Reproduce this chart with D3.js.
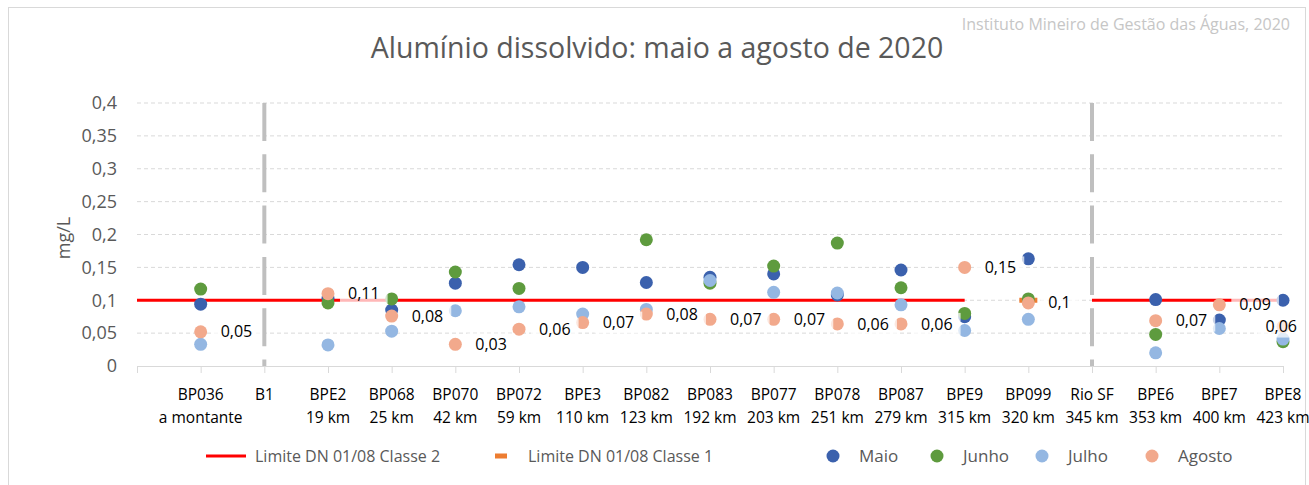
<!DOCTYPE html>
<html>
<head>
<meta charset="utf-8">
<script src="https://cdn.jsdelivr.net/npm/d3@7"></script>
<style>
  body { margin: 0; background: #fff; }
  svg text { font-family: "Open Sans", Lato, sans-serif; }
</style>
</head>
<body>
<div id="chart"></div>
<script>
// estacoes (duas linhas de rotulo)
var stations = ["BP036", "B1", "BPE2", "BP068", "BP070", "BP072", "BPE3", "BP082", "BP083",
  "BP077", "BP078", "BP087", "BPE9", "BP099", "Rio SF", "BPE6", "BPE7", "BPE8"];
var distances = ["a montante", "", "19 km", "25 km", "42 km", "59 km", "110 km", "123 km", "192 km",
  "203 km", "251 km", "279 km", "315 km", "320 km", "345 km", "353 km", "400 km", "423 km"];

// aluminio dissolvido (mg/L)
var maio   = [0.094, null, 0.103, 0.085, 0.126, 0.154, 0.150, 0.127, 0.135, 0.140, 0.108, 0.146, 0.075, 0.163, null, 0.101, 0.070, 0.100];
var junho  = [0.117, null, 0.096, 0.102, 0.143, 0.118, null, 0.192, 0.126, 0.152, 0.187, 0.119, 0.080, 0.102, null, 0.048, null, 0.037];
var julho  = [0.033, null, 0.032, 0.053, 0.084, 0.090, 0.079, 0.086, 0.130, 0.112, 0.111, 0.093, 0.054, 0.071, null, 0.020, 0.057, 0.041];
var agosto = [0.052, null, 0.110, 0.076, 0.033, 0.056, 0.066, 0.079, 0.071, 0.071, 0.064, 0.064, 0.150, 0.096, null, 0.069, 0.093, 0.060];

// limites DN 01/08
var classe2 = [0.1, 0.1, 0.1, 0.1, 0.1, 0.1, 0.1, 0.1, 0.1, 0.1, 0.1, 0.1, 0.1, null, 0.1, 0.1, 0.1, 0.1];
var classe1 = [null, null, null, null, null, null, null, null, null, null, null, null, null, 0.1, null, null, null, null];

// divisores verticais (B1 e Rio SF)
var dividers = ["B1", "Rio SF"];

var yTicks = [0, 0.05, 0.1, 0.15, 0.2, 0.25, 0.3, 0.35, 0.4];

var series = [
  { name: "Maio", values: maio, color: "#3b61ad" },
  { name: "Junho", values: junho, color: "#5e9b3e" },
  { name: "Julho", values: julho, color: "#94b7e2" },
  { name: "Agosto", values: agosto, color: "#f2a98c" }
];

var svgWidth = 1309;
var svgHeight = 485;
var margin = { top: 103, right: 26, bottom: 119, left: 137 };
var width = svgWidth - margin.left - margin.right;
var height = svgHeight - margin.top - margin.bottom;

var svg = d3.select("#chart")
  .append("svg")
  .attr("width", svgWidth)
  .attr("height", svgHeight);

// borda do grafico
svg.append("rect")
  .attr("x", 8.5)
  .attr("y", 7.5)
  .attr("width", 1297)
  .attr("height", 500)
  .attr("fill", "none")
  .attr("stroke", "#d9d9d9");

var chartGroup = svg.append("g")
  .attr("transform", `translate(${margin.left}, ${margin.top})`);

var xScale = d3.scaleLinear()
  .domain([0, stations.length])
  .range([0, width]);

var yScale = d3.scaleLinear()
  .domain([0, 0.4])
  .range([height, 0]);

var fmt = function(v) { return d3.format(".2~f")(v).replace(".", ","); };

// grade horizontal
chartGroup.append("g")
  .selectAll("line")
  .data(yTicks.slice(1))
  .enter()
  .append("line")
  .attr("x1", 0)
  .attr("x2", width)
  .attr("y1", d => yScale(d))
  .attr("y2", d => yScale(d))
  .attr("stroke", "#d9d9d9")
  .attr("stroke-dasharray", "4,3");

// eixo y (so rotulos)
var leftAxis = d3.axisLeft(yScale)
  .tickValues(yTicks)
  .tickSize(0)
  .tickPadding(20)
  .tickFormat(d => d === 0 ? "0" : fmt(d));

var yAxis = chartGroup.append("g").call(leftAxis);
yAxis.select(".domain").remove();
yAxis.selectAll("text")
  .attr("fill", "#595959")
  .style("font-size", "18px");

// eixo x
var bottomAxis = d3.axisBottom(xScale)
  .tickValues(d3.range(0, stations.length + 1))
  .tickSize(7)
  .tickFormat("");

var xAxis = chartGroup.append("g")
  .attr("transform", `translate(0, ${height})`)
  .call(bottomAxis);
xAxis.select(".domain").attr("stroke", "#d9d9d9");
xAxis.selectAll(".tick line").attr("stroke", "#d9d9d9");

// rotulos das estacoes
var catLabels = chartGroup.append("g")
  .selectAll("text")
  .data(stations)
  .enter()
  .append("text")
  .attr("x", (d, i) => xScale(i + 1))
  .attr("y", height + 34)
  .attr("text-anchor", "middle")
  .attr("fill", "#000")
  .style("font-size", "15.5px");
catLabels.append("tspan")
  .attr("x", (d, i) => xScale(i + 1))
  .text(d => d);
catLabels.append("tspan")
  .attr("x", (d, i) => xScale(i + 1))
  .attr("dy", 22.5)
  .text((d, i) => distances[i]);

// divisores tracejados
chartGroup.append("g")
  .selectAll("line")
  .data(dividers)
  .enter()
  .append("line")
  .attr("x1", d => xScale(stations.indexOf(d) + 1))
  .attr("x2", d => xScale(stations.indexOf(d) + 1))
  .attr("y1", yScale(0.4))
  .attr("y2", yScale(0))
  .attr("stroke", "#bfbfbf")
  .attr("stroke-width", 4)
  .attr("stroke-dasharray", "38,13.3");

// limite classe 2 (linha vermelha, comeca no inicio do eixo)
var limitPts = classe2.map((v, i) => ({ x: i + 1, v: v }));
limitPts.unshift({ x: 0, v: classe2[0] });
var limitLine = d3.line()
  .defined(d => d.v !== null)
  .x(d => xScale(d.x))
  .y(d => yScale(d.v));

chartGroup.append("path")
  .datum(limitPts)
  .attr("d", limitLine)
  .attr("fill", "none")
  .attr("stroke", "#ff0000")
  .attr("stroke-width", 3);

// limite classe 1 (marcador tracejado laranja)
chartGroup.append("g")
  .selectAll("rect")
  .data(classe1.map((v, i) => ({ x: i + 1, v: v })).filter(d => d.v !== null))
  .enter()
  .append("rect")
  .attr("x", d => xScale(d.x) - 9)
  .attr("y", d => yScale(d.v) - 2.5)
  .attr("width", 18)
  .attr("height", 5)
  .attr("fill", "#ed7d31");

// pontos
series.forEach(function(s) {
  chartGroup.append("g")
    .selectAll("circle")
    .data(s.values.map((v, i) => ({ x: i + 1, v: v })).filter(d => d.v !== null))
    .enter()
    .append("circle")
    .attr("cx", d => xScale(d.x))
    .attr("cy", d => yScale(d.v))
    .attr("r", 6.5)
    .attr("fill", s.color);
});

// rotulos de dados de agosto (caixa branca semitransparente)
var labelGroup = chartGroup.append("g");
agosto.forEach(function(v, i) {
  if (v === null) return;
  var cx = xScale(i + 1);
  var cy = yScale(v);
  var g = labelGroup.append("g");
  var box = g.append("rect");
  var t = g.append("text")
    .attr("fill", "#000")
    .attr("dy", "0.35em")
    .style("font-size", "16px")
    .text(fmt(v));
  var w = t.node().getComputedTextLength();
  var boxW = w + 16;
  var boxX = cx + 12;
  // nao deixar sair da area do grafico
  var maxRight = svgWidth - 4 - margin.left;
  if (boxX + boxW > maxRight) boxX = maxRight - boxW;
  t.attr("x", boxX + 8).attr("y", cy);
  box.attr("x", boxX)
    .attr("y", cy - 11)
    .attr("width", boxW)
    .attr("height", 22)
    .attr("fill", "#fff")
    .attr("fill-opacity", 0.72);
});

// titulo
svg.append("text")
  .attr("x", 657)
  .attr("y", 58)
  .attr("text-anchor", "middle")
  .attr("fill", "#595959")
  .style("font-size", "28.5px")
  .text("Alumínio dissolvido: maio a agosto de 2020");

// fonte
svg.append("text")
  .attr("x", 1290)
  .attr("y", 30)
  .attr("text-anchor", "end")
  .attr("fill", "#c6c6c6")
  .style("font-size", "16px")
  .text("Instituto Mineiro de Gestão das Águas, 2020");

// titulo eixo y
svg.append("text")
  .attr("transform", "translate(70, 238) rotate(-90)")
  .attr("text-anchor", "middle")
  .attr("fill", "#595959")
  .style("font-size", "18px")
  .text("mg/L");

// legenda
var legend = svg.append("g")
  .attr("transform", "translate(0, 456)");

legend.append("line")
  .attr("x1", 206).attr("x2", 246)
  .attr("y1", 0).attr("y2", 0)
  .attr("stroke", "#ff0000")
  .attr("stroke-width", 3);
legend.append("text")
  .attr("x", 255).attr("y", 0).attr("dy", "0.35em")
  .attr("fill", "#595959")
  .style("font-size", "16px")
  .text("Limite DN 01/08 Classe 2");

legend.append("rect")
  .attr("x", 495).attr("y", -2.5)
  .attr("width", 12).attr("height", 5)
  .attr("fill", "#ed7d31");
legend.append("text")
  .attr("x", 528).attr("y", 0).attr("dy", "0.35em")
  .attr("fill", "#595959")
  .style("font-size", "16px")
  .text("Limite DN 01/08 Classe 1");

var legendX = [833, 937, 1042, 1152];
series.forEach(function(s, i) {
  legend.append("circle")
    .attr("cx", legendX[i]).attr("cy", 0)
    .attr("r", 6.5)
    .attr("fill", s.color);
  legend.append("text")
    .attr("x", legendX[i] + 26).attr("y", 0).attr("dy", "0.35em")
    .attr("fill", "#595959")
    .style("font-size", "17px")
    .text(s.name);
});
</script>
</body>
</html>
